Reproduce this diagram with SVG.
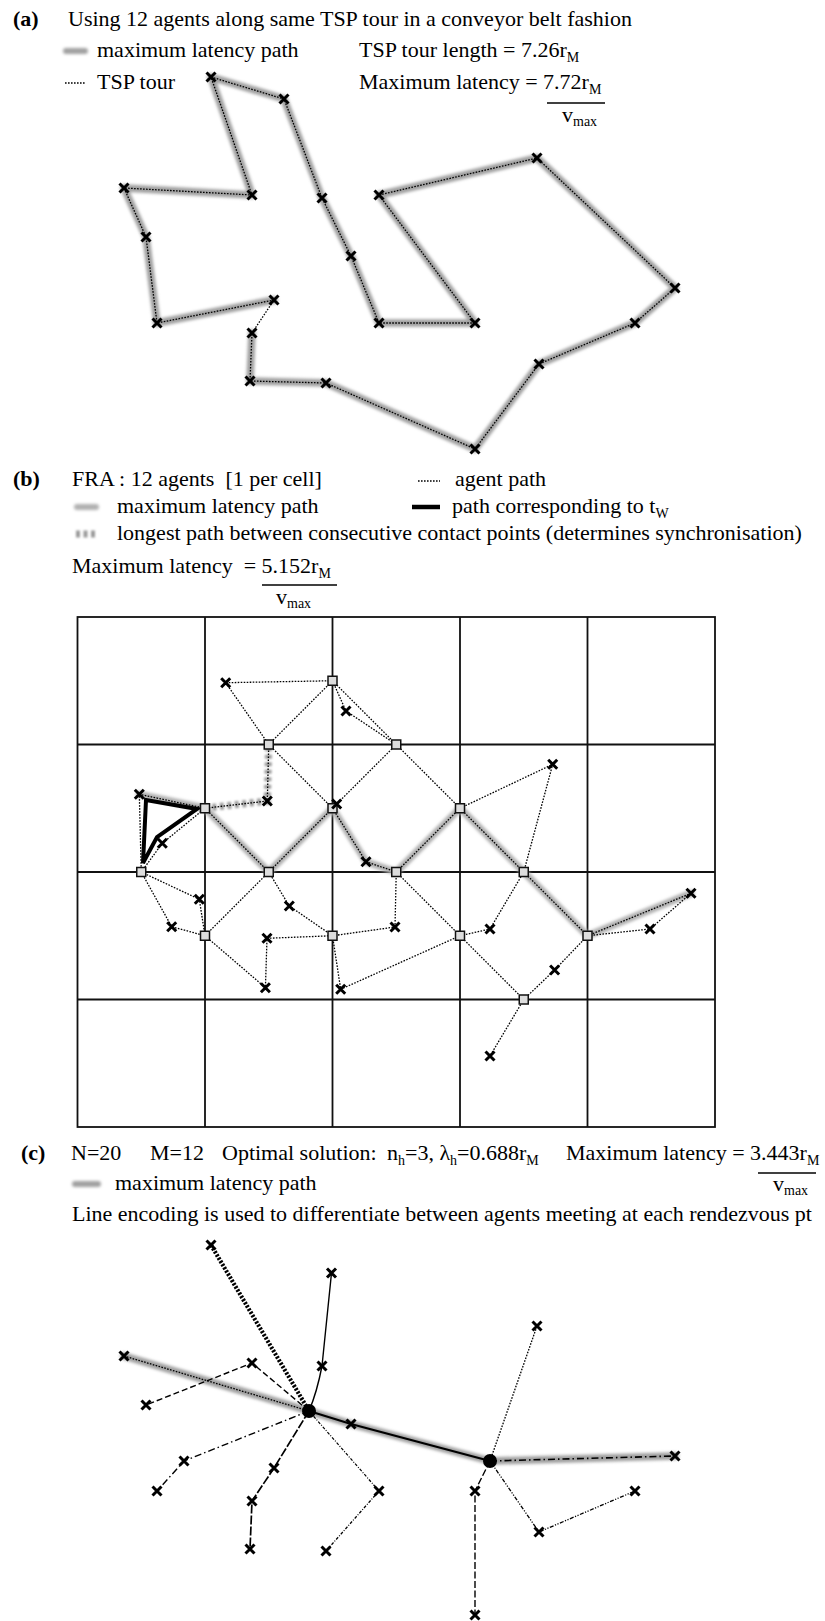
<svg xmlns="http://www.w3.org/2000/svg" width="825" height="1621" viewBox="0 0 825 1621">
<defs>
<style>
.t{font-family:"Liberation Serif","Times New Roman",serif;font-size:22px;fill:#000}
.bd{font-weight:bold}
.s{font-size:14px}
.dot{fill:none;stroke:#000;stroke-width:1.3;stroke-dasharray:1.6 1.4}
.g{fill:none;stroke:#a0a0a0;stroke-width:7.5;stroke-linecap:round;stroke-linejoin:round;filter:url(#bl)}
.gl{fill:none;stroke:#b0b0b0;stroke-width:7;stroke-linecap:round;stroke-linejoin:round;filter:url(#bl)}
.gd{fill:none;stroke:#999;stroke-width:7;stroke-dasharray:4 3.5;filter:url(#bs)}
.xm{fill:none;stroke:#000;stroke-width:3}
.grid{fill:none;stroke:#111;stroke-width:1.8}
.sq{fill:#ddd;stroke:#111;stroke-width:1.5}
.blk{fill:none;stroke:#000;stroke-width:4;stroke-linejoin:miter}
.fr{stroke:#000;stroke-width:1.5}
.sol{fill:none;stroke:#000;stroke-width:1.4}
.thd{fill:none;stroke:#000;stroke-width:4.2;stroke-dasharray:2.2 1.5}
.dsh{fill:none;stroke:#000;stroke-width:1.4;stroke-dasharray:6 3}
.dd{fill:none;stroke:#000;stroke-width:1.4;stroke-dasharray:7 3 1.5 3}
.ld{fill:none;stroke:#000;stroke-width:1.7;stroke-dasharray:9 2}
.fd{fill:none;stroke:#000;stroke-width:1.2;stroke-dasharray:3 1.5 1 1.5}
.ddd{fill:none;stroke:#000;stroke-width:1.3;stroke-dasharray:4 1.5 1.2 1.5 1.2 1.5}
.hub{fill:#000}
</style>
<filter id="bl" filterUnits="userSpaceOnUse" x="0" y="0" width="825" height="1621"><feGaussianBlur stdDeviation="1.4"/></filter>
<filter id="bs" filterUnits="userSpaceOnUse" x="0" y="0" width="825" height="1621"><feGaussianBlur stdDeviation="0.8"/></filter>
<path id="x" class="xm" d="M-4.5,-4.5L4.5,4.5M4.5,-4.5L-4.5,4.5"/>
<rect id="sq" class="sq" x="-4.5" y="-4.5" width="9" height="9"/>
</defs>
<rect width="825" height="1621" fill="#fff"/>

<!-- ===== (a) ===== -->
<g id="text-a">
<text class="t bd" x="13" y="26">(a)</text>
<text class="t" x="68" y="26">Using 12 agents along same TSP tour in a conveyor belt fashion</text>
<line class="g" x1="66" y1="51" x2="85" y2="51" style="stroke-width:6"/>
<text class="t" x="97" y="57">maximum latency path</text>
<text class="t" x="359" y="57">TSP tour length = 7.26r<tspan class="s" dy="5">M</tspan></text>
<line class="dot" x1="65" y1="83" x2="86" y2="83"/>
<text class="t" x="97" y="89">TSP tour</text>
<text class="t" x="359" y="89">Maximum latency = 7.72r<tspan class="s" dy="5">M</tspan></text>
<line class="fr" x1="547" y1="103" x2="605" y2="103"/>
<text class="t" x="562" y="122">v<tspan class="s" dy="4">max</tspan></text>
</g>
<g id="connectors-a">
<polyline class="g" points="274,300 157,323 146,237 124,188 252,195 211,77 284,99 322,198 351,256 379,323 475,323 379,195 537,158 675,288 635,323 539,364 475,449 326,383 250,381 252,333"/>
<polygon class="dot" points="211,77 284,99 322,198 351,256 379,323 475,323 379,195 537,158 675,288 635,323 539,364 475,449 326,383 250,381 252,333 274,300 157,323 146,237 124,188 252,195"/>
</g>
<g id="nodes-a">
<g id="a-p1"><use href="#x" x="211" y="77"/></g>
<g id="a-p2"><use href="#x" x="284" y="99"/></g>
<g id="a-p3"><use href="#x" x="322" y="198"/></g>
<g id="a-p4"><use href="#x" x="351" y="256"/></g>
<g id="a-p5"><use href="#x" x="379" y="323"/></g>
<g id="a-p6"><use href="#x" x="475" y="323"/></g>
<g id="a-p7"><use href="#x" x="379" y="195"/></g>
<g id="a-p8"><use href="#x" x="537" y="158"/></g>
<g id="a-p9"><use href="#x" x="675" y="288"/></g>
<g id="a-p10"><use href="#x" x="635" y="323"/></g>
<g id="a-p11"><use href="#x" x="539" y="364"/></g>
<g id="a-p12"><use href="#x" x="475" y="449"/></g>
<g id="a-p13"><use href="#x" x="326" y="383"/></g>
<g id="a-p14"><use href="#x" x="250" y="381"/></g>
<g id="a-p15"><use href="#x" x="252" y="333"/></g>
<g id="a-p16"><use href="#x" x="274" y="300"/></g>
<g id="a-p17"><use href="#x" x="157" y="323"/></g>
<g id="a-p18"><use href="#x" x="146" y="237"/></g>
<g id="a-p19"><use href="#x" x="124" y="188"/></g>
<g id="a-p20"><use href="#x" x="252" y="195"/></g>
</g>

<!-- ===== (b) ===== -->
<g id="text-b">
<text class="t bd" x="13" y="486">(b)</text>
<text class="t" x="72" y="486" xml:space="preserve">FRA : 12 agents  [1 per cell]</text>
<line class="dot" x1="418" y1="481" x2="440" y2="481"/>
<text class="t" x="455" y="486">agent path</text>
<line class="gl" x1="77" y1="507" x2="96" y2="507" style="stroke-width:6"/>
<text class="t" x="117" y="513">maximum latency path</text>
<line x1="412" y1="507" x2="440" y2="507" stroke="#000" stroke-width="4.5"/>
<text class="t" x="452" y="513">path corresponding to t<tspan class="s" dy="5">W</tspan></text>
<line class="gd" x1="76" y1="534" x2="98" y2="534"/>
<text class="t" x="117" y="540">longest path between consecutive contact points (determines synchronisation)</text>
<text class="t" x="72" y="573" xml:space="preserve">Maximum latency  = 5.152r<tspan class="s" dy="5">M</tspan></text>
<line class="fr" x1="262" y1="585" x2="337" y2="585"/>
<text class="t" x="276" y="604">v<tspan class="s" dy="4">max</tspan></text>
</g>
<g id="grid-b">
<rect class="grid" x="77.5" y="617" width="637.5" height="510"/>
<path class="grid" d="M205,617V1127M332.5,617V1127M460,617V1127M587.5,617V1127M77.5,744.5H715M77.5,872H715M77.5,999.5H715"/>
</g>
<g id="connectors-b">
<polyline class="gl" points="139.3,794.3 205,808.25 268.75,872 332.5,808.25 366,861.7 396.25,872 460,808.25 523.75,872 587.5,935.75 691,893.3"/>
<polyline class="gd" points="205,808.25 267.3,801 268.75,744.5"/>
<path class="blk" d="M146,800L197,809L157,837L143,863Z"/>
<path class="dot" d="M225.7,682.7L332.5,680.75M225.7,682.7L268.75,744.5M268.75,744.5L332.5,680.75M332.5,680.75L346,711L396.25,744.5M332.5,680.75L396.25,744.5M268.75,744.5L332.5,808.25M396.25,744.5L336.7,804M396.25,744.5L460,808.25M268.75,744.5L267.3,801L205,808.25M205,808.25L139.3,794.3L141.25,872M141.25,872L162.3,843.3L205,808.25M205,808.25L268.75,872L332.5,808.25M332.5,808.25L366,861.7L396.25,872L460,808.25M460,808.25L552.7,764.3L523.75,872M460,808.25L523.75,872L587.5,935.75L691,893.3M141.25,872L199.3,899.3L205,935.75M141.25,872L171.7,926.7L205,935.75M268.75,872L205,935.75M268.75,872L289.3,906L332.5,935.75M396.25,872L395,927L332.5,935.75M396.25,872L460,935.75M205,935.75L265.4,987.7L267,938.3L332.5,935.75M332.5,935.75L340.7,989.3L460,935.75M460,935.75L490,929L523.75,872M460,935.75L523.75,999.5L554.6,970L587.5,935.75M523.75,999.5L490,1056M587.5,935.75L650,929L691,893.3"/>
</g>
<g id="nodes-b">
<g id="b-s1"><use href="#sq" x="332.5" y="680.75"/></g>
<g id="b-s2"><use href="#sq" x="268.75" y="744.5"/></g>
<g id="b-s3"><use href="#sq" x="396.25" y="744.5"/></g>
<g id="b-s4"><use href="#sq" x="205" y="808.25"/></g>
<g id="b-s5"><use href="#sq" x="332.5" y="808.25"/></g>
<g id="b-s6"><use href="#sq" x="460" y="808.25"/></g>
<g id="b-s7"><use href="#sq" x="141.25" y="872"/></g>
<g id="b-s8"><use href="#sq" x="268.75" y="872"/></g>
<g id="b-s9"><use href="#sq" x="396.25" y="872"/></g>
<g id="b-s10"><use href="#sq" x="523.75" y="872"/></g>
<g id="b-s11"><use href="#sq" x="205" y="935.75"/></g>
<g id="b-s12"><use href="#sq" x="332.5" y="935.75"/></g>
<g id="b-s13"><use href="#sq" x="460" y="935.75"/></g>
<g id="b-s14"><use href="#sq" x="587.5" y="935.75"/></g>
<g id="b-s15"><use href="#sq" x="523.75" y="999.5"/></g>
<g id="b-p1"><use href="#x" x="225.7" y="682.7"/></g>
<g id="b-p2"><use href="#x" x="346" y="711"/></g>
<g id="b-p3"><use href="#x" x="267.3" y="801"/></g>
<g id="b-p4"><use href="#x" x="139.3" y="794.3"/></g>
<g id="b-p5"><use href="#x" x="336.7" y="804"/></g>
<g id="b-p6"><use href="#x" x="162.3" y="843.3"/></g>
<g id="b-p7"><use href="#x" x="366" y="861.7"/></g>
<g id="b-p8"><use href="#x" x="199.3" y="899.3"/></g>
<g id="b-p9"><use href="#x" x="289.3" y="906"/></g>
<g id="b-p10"><use href="#x" x="171.7" y="926.7"/></g>
<g id="b-p11"><use href="#x" x="395" y="927"/></g>
<g id="b-p12"><use href="#x" x="552.7" y="764.3"/></g>
<g id="b-p13"><use href="#x" x="691" y="893.3"/></g>
<g id="b-p14"><use href="#x" x="267" y="938.3"/></g>
<g id="b-p15"><use href="#x" x="490" y="929"/></g>
<g id="b-p16"><use href="#x" x="650" y="929"/></g>
<g id="b-p17"><use href="#x" x="554.6" y="970"/></g>
<g id="b-p18"><use href="#x" x="490" y="1056"/></g>
<g id="b-p19"><use href="#x" x="265.4" y="987.7"/></g>
<g id="b-p20"><use href="#x" x="340.7" y="989.3"/></g>
</g>

<!-- ===== (c) ===== -->
<g id="text-c">
<text class="t bd" x="21" y="1160">(c)</text>
<text class="t" x="71" y="1160">N=20</text>
<text class="t" x="150" y="1160">M=12</text>
<text class="t" x="222" y="1160">Optimal solution:</text>
<text class="t" x="387" y="1160">n<tspan class="s" dy="5">h</tspan><tspan dy="-5">=3, λ</tspan><tspan class="s" dy="5">h</tspan><tspan dy="-5">=0.688r</tspan><tspan class="s" dy="5">M</tspan></text>
<text class="t" x="566" y="1160">Maximum latency = 3.443r<tspan class="s" dy="5">M</tspan></text>
<line class="fr" x1="758" y1="1173" x2="816" y2="1173"/>
<text class="t" x="773" y="1191">v<tspan class="s" dy="4">max</tspan></text>
<line class="g" x1="75" y1="1184" x2="98" y2="1184" style="stroke-width:6"/>
<text class="t" x="115" y="1190">maximum latency path</text>
<text class="t" x="72" y="1221">Line encoding is used to differentiate between agents meeting at each rendezvous pt</text>
</g>
<g id="connectors-c">
<polyline class="g" points="124,1356 309,1411 351,1424 490,1461 675,1456"/>
<line class="thd" x1="211" y1="1245" x2="309" y2="1411"/>
<path class="sol" d="M331.5,1273L322,1366Q317,1392 309,1411"/>
<line class="dot" x1="124" y1="1356" x2="309" y2="1411"/>
<polyline class="dsh" points="309,1411 252,1363 146,1405"/>
<polyline class="dd" points="309,1411 184,1461 157,1491"/>
<polyline class="ld" points="309,1411 274,1468 252,1501 250,1549"/>
<polyline class="fd" points="309,1411 379,1491 326,1551"/>
<polyline class="sol" style="stroke-width:2" points="309,1411 351,1424 490,1461"/>
<line class="dot" x1="490" y1="1461" x2="537" y2="1326"/>
<line class="dd" style="stroke-width:1.6" x1="490" y1="1461" x2="675" y2="1456"/>
<polyline class="dsh" style="stroke-dasharray:7 2.5" points="490,1461 475,1491 475,1615"/>
<polyline class="ddd" points="490,1461 539,1532 635,1491"/>
</g>
<g id="nodes-c">
<g id="c-h1"><circle class="hub" cx="309" cy="1411" r="7"/></g>
<g id="c-h2"><circle class="hub" cx="490" cy="1461" r="7"/></g>
<g id="c-p1"><use href="#x" x="211" y="1245"/></g>
<g id="c-p2"><use href="#x" x="331.5" y="1273"/></g>
<g id="c-p3"><use href="#x" x="322" y="1366"/></g>
<g id="c-p4"><use href="#x" x="124" y="1356"/></g>
<g id="c-p5"><use href="#x" x="252" y="1363"/></g>
<g id="c-p6"><use href="#x" x="146" y="1405"/></g>
<g id="c-p7"><use href="#x" x="351" y="1424"/></g>
<g id="c-p8"><use href="#x" x="184" y="1461"/></g>
<g id="c-p9"><use href="#x" x="157" y="1491"/></g>
<g id="c-p10"><use href="#x" x="274" y="1468"/></g>
<g id="c-p11"><use href="#x" x="252" y="1501"/></g>
<g id="c-p12"><use href="#x" x="250" y="1549"/></g>
<g id="c-p13"><use href="#x" x="379" y="1491"/></g>
<g id="c-p14"><use href="#x" x="326" y="1551"/></g>
<g id="c-p15"><use href="#x" x="537" y="1326"/></g>
<g id="c-p16"><use href="#x" x="675" y="1456"/></g>
<g id="c-p17"><use href="#x" x="475" y="1491"/></g>
<g id="c-p18"><use href="#x" x="635" y="1491"/></g>
<g id="c-p19"><use href="#x" x="539" y="1532"/></g>
<g id="c-p20"><use href="#x" x="475" y="1615"/></g>
</g>
</svg>
